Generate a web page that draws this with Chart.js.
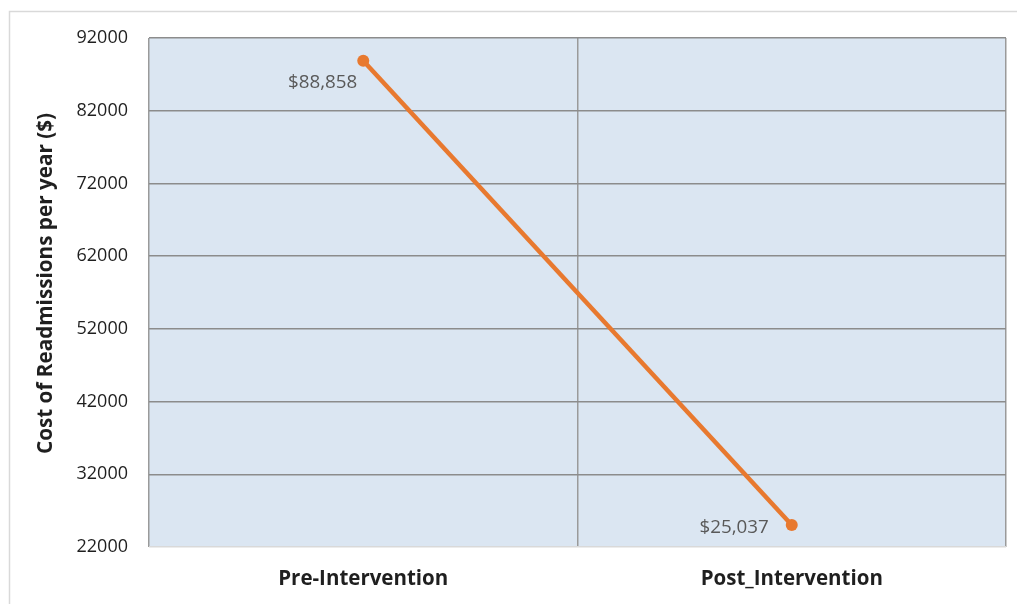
<!DOCTYPE html>
<html>
<head>
<meta charset="utf-8">
<title>Cost of Readmissions per year</title>
<script src="https://cdn.jsdelivr.net/npm/chart.js@4/dist/chart.umd.min.js"></script>
<style>
  html, body { margin: 0; padding: 0; background: #ffffff; }
  #wrap { position: relative; width: 1017px; height: 604px; }
  canvas { display: block; }
</style>
</head>
<body>
<div id="wrap"><canvas id="chart" width="1017" height="604"></canvas></div>
<script>
// Chart data
const categories = ['Pre-Intervention', 'Post_Intervention'];
const costValues = [88858, 25037];
const valueLabels = ['$88,858', '$25,037'];
const yTicks = [22000, 32000, 42000, 52000, 62000, 72000, 82000, 92000];
const yTitle = 'Cost of Readmissions per year ($)';

const FONT = "'Open Sans', 'Liberation Sans', sans-serif";

// Frame around the whole chart and shaded plot area
const framePlugin = {
  id: 'frame',
  beforeDraw(chart) {
    const { ctx, chartArea: a } = chart;
    ctx.save();
    ctx.fillStyle = '#ffffff';
    ctx.fillRect(0, 0, chart.width, chart.height);
    ctx.strokeStyle = '#d9d9d9';
    ctx.lineWidth = 1.5;
    ctx.beginPath();
    ctx.moveTo(9.5, chart.height);
    ctx.lineTo(9.5, 11.5);
    ctx.lineTo(chart.width, 11.5);
    ctx.stroke();
    ctx.fillStyle = '#dbe6f2';
    ctx.fillRect(a.left, a.top, a.right - a.left, a.bottom - a.top);
    ctx.restore();
  },
  // rotated y-axis title, sitting slightly above the plot's middle
  afterDraw(chart) {
    const { ctx, chartArea: a } = chart;
    ctx.save();
    ctx.translate(46, (a.top + a.bottom) / 2 - 9);
    ctx.rotate(-Math.PI / 2);
    ctx.font = 'bold 20.7px ' + FONT;
    ctx.fillStyle = '#1f1f1f';
    ctx.textAlign = 'center';
    ctx.textBaseline = 'middle';
    ctx.fillText(yTitle, 0, 0);
    ctx.restore();
  }
};

// Value labels placed beside each point
const valueLabelPlugin = {
  id: 'valueLabels',
  afterDatasetsDraw(chart, args, opts) {
    const { ctx } = chart;
    const meta = chart.getDatasetMeta(0);
    ctx.save();
    ctx.font = '18.8px ' + FONT;
    ctx.fillStyle = '#595959';
    ctx.textAlign = 'right';
    ctx.textBaseline = 'middle';
    meta.data.forEach((pt, i) => {
      const off = opts.offsets[i];
      ctx.fillText(valueLabels[i], pt.x + off[0], pt.y + off[1]);
    });
    ctx.restore();
  }
};

new Chart(document.getElementById('chart'), {
  type: 'line',
  data: {
    labels: categories,
    datasets: [{
      data: costValues,
      borderColor: '#e8792f',
      backgroundColor: '#e8792f',
      borderWidth: 4.5,
      pointRadius: 6,
      pointHoverRadius: 6,
      pointBorderWidth: 0,
      tension: 0
    }]
  },
  options: {
    responsive: false,
    animation: false,
    devicePixelRatio: 1,
    layout: { padding: { top: 38, right: 11, left: 0, bottom: 0 } },
    plugins: {
      legend: { display: false },
      tooltip: { enabled: false },
      valueLabels: { offsets: [[-6, 22], [-23, 3]] }
    },
    scales: {
      x: {
        type: 'category',
        offset: true,
        grid: {
          offset: true,
          drawTicks: false,
          color: '#9a9a9a',
          lineWidth: 1.5
        },
        border: { display: false },
        ticks: {
          padding: 20,
          color: '#1f1f1f',
          font: { family: FONT, size: 20.5, weight: 'bold' }
        },
        afterFit(scale) { scale.height = 57; }
      },
      y: {
        min: 22000,
        max: 92000,
        afterBuildTicks(scale) { scale.ticks = yTicks.map(v => ({ value: v })); },
        grid: {
          drawTicks: false,
          color: ctx => (ctx.tick && ctx.tick.value === 22000) ? '#d9d9d9' : '#8c8c8c',
          lineWidth: 1.5
        },
        border: { display: false },
        ticks: {
          padding: 21,
          color: '#1f1f1f',
          font: { family: FONT, size: 18 },
          callback: v => String(v)
        },
        afterFit(scale) { scale.width = 149; }
      }
    }
  },
  plugins: [framePlugin, valueLabelPlugin]
});
</script>
</body>
</html>
